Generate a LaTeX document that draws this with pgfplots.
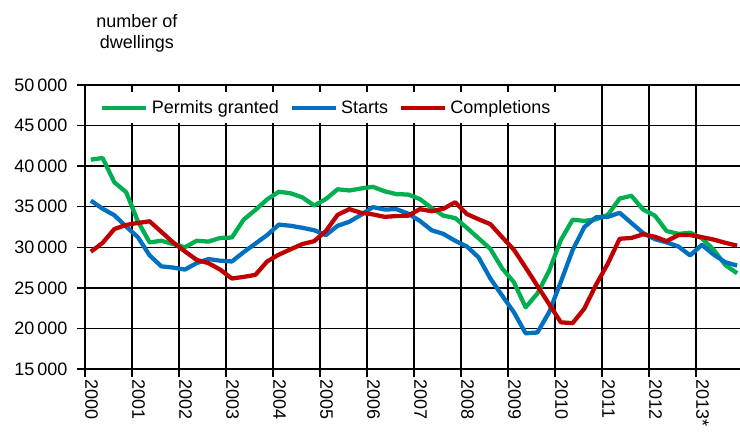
\documentclass[border=0pt]{standalone}
\usepackage{fontspec}
\setmainfont{Liberation Sans}
\usepackage{pgfplots}
\usepackage{pgfplotstable}
\pgfplotsset{compat=1.18}
\definecolor{cgreen}{RGB}{0,176,80}
\definecolor{cblue}{RGB}{0,112,192}
\definecolor{cred}{RGB}{192,0,0}

% quarterly values, x = 2000.125 + 0.25k
\pgfplotstableread{
x        P      S      C
2000.125 40800  35750  29450
2000.375 41000  34750  30550
2000.625 38000  33950  32250
2000.875 36800  32550  32750
2001.125 33200  31250  33000
2001.375 30600  29000  33200
2001.625 30800  27650  31900
2001.875 30400  27500  30600
2002.125 30000  27250  29500
2002.375 30800  28050  28450
2002.625 30700  28550  28050
2002.875 31150  28350  27250
2003.125 31200  28250  26150
2003.375 33400  29400  26350
2003.625 34600  30450  26600
2003.875 35900  31500  28250
2004.125 36850  32800  29100
2004.375 36650  32650  29750
2004.625 36150  32400  30400
2004.875 35150  32100  30750
2005.125 35950  31500  32000
2005.375 37150  32650  34000
2005.625 37000  33150  34700
2005.875 37250  34000  34250
2006.125 37450  34950  34050
2006.375 36900  34650  33750
2006.625 36550  34700  33850
2006.875 36500  34150  33900
2007.125 35950  33250  34700
2007.375 34850  32100  34450
2007.625 33900  31650  34750
2007.875 33600  30800  35550
2008.125 32400  30100  34100
2008.375 31100  28750  33450
2008.625 29800  26150  32850
2008.875 27400  24050  31250
2009.125 25700  22000  29700
2009.375 22600  19400  27500
2009.625 24300  19500  25250
2009.875 27100  22000  23000
2010.125 30900  25750  20750
2010.375 33400  29650  20650
2010.625 33250  32500  22450
2010.875 33450  33700  25400
2011.125 34000  33750  28000
2011.375 36000  34250  31050
2011.625 36350  33000  31150
2011.875 34650  31750  31600
2012.125 33900  31000  31300
2012.375 32000  30600  30750
2012.625 31650  30100  31500
2012.875 31800  29000  31500
2013.125 31100  30300  31250
2013.375 29700  29100  30950
2013.625 27800  28150  30550
2013.875 26800  27750  30200
}\datatable

\begin{document}
\begin{tikzpicture}[font=\fontsize{13.5}{16}\selectfont]
\useasboundingbox (-63.75pt,-49.5pt) rectangle (491.25pt,276.75pt);
\begin{axis}[
  at={(0pt,0pt)}, anchor=south west, scale only axis,
  width=493.5pt, height=213pt,
  xmin=2000, xmax=2014, ymin=15000, ymax=50000,
  xtick={2000,2001,2002,2003,2004,2005,2006,2007,2008,2009,2010,2011,2012,2013},
  xticklabels={2000,2001,2002,2003,2004,2005,2006,2007,2008,2009,2010,2011,2012,2013*},
  ytick={15000,20000,25000,30000,35000,40000,45000,50000},
  grid=major,
  major grid style={black, line width=1.1pt},
  axis line style={black, line width=1.1pt},
  tick align=outside,
  xtick pos=bottom, ytick pos=left,
  major tick length=6pt,
  tick style={black, line width=1.1pt},
  xticklabel style={rotate=-90, anchor=south west, inner sep=0pt},
  xticklabel shift=2pt,
  yticklabel style={anchor=east, inner sep=0pt},
  yticklabel shift=7pt,
  /pgf/number format/assume math mode=true,
  /pgf/number format/1000 sep={\,},
  scaled y ticks=false,
  legend columns=3,
  legend cell align=left,
  legend style={at={(0,1)}, anchor=north west, xshift=2.25pt, yshift=-5.25pt,
    draw=none, fill=white, inner xsep=9pt, inner ysep=6pt,
    nodes={inner sep=0pt},
    /tikz/every odd column/.append style={column sep=2.5pt},
    /tikz/every even column/.append style={column sep=8pt}},
  legend image code/.code={\draw[#1, line width=3.2pt] (0pt,0pt) -- (33pt,0pt);},
  every axis plot/.append style={line width=3.2pt, line join=round, no markers},
]
\addplot[cgreen] table[x=x, y=P] {\datatable};
\addlegendentry{Permits granted}
\addplot[cblue] table[x=x, y=S] {\datatable};
\addlegendentry{Starts}
\addplot[cred] table[x=x, y=C] {\datatable};
\addlegendentry{Completions}
\end{axis}
\node[anchor=base] at (39pt,255.75pt) {number of};
\node[anchor=base] at (39pt,240pt) {dwellings};
\end{tikzpicture}
\end{document}
